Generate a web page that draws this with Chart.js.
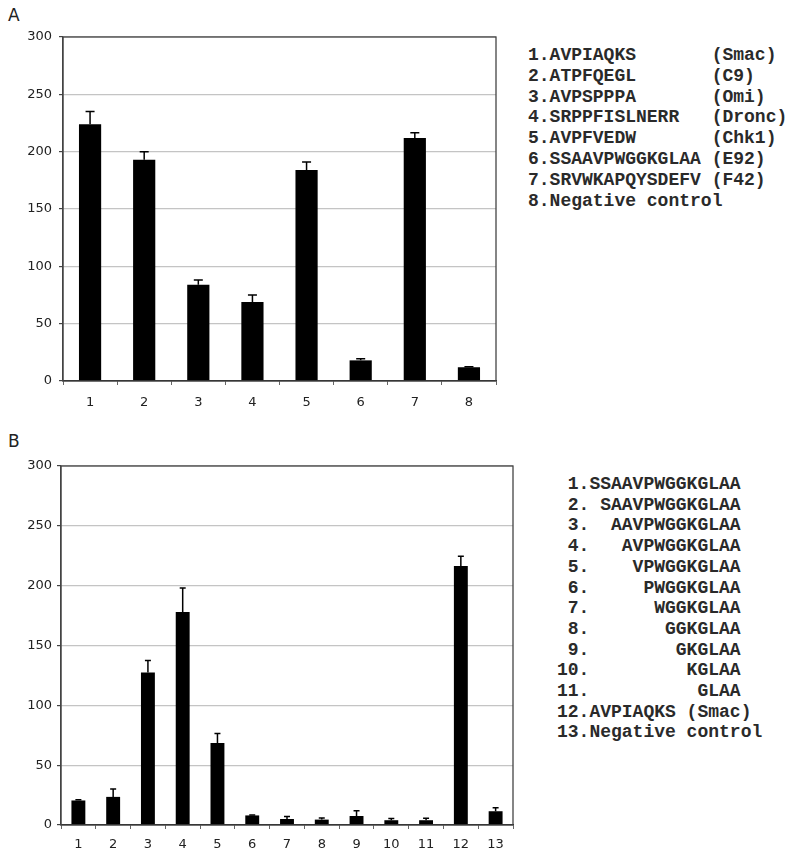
<!DOCTYPE html>
<html>
<head>
<meta charset="utf-8">
<script src="https://cdn.jsdelivr.net/npm/chart.js@4.4.1/dist/chart.umd.min.js"></script>
<style>
  body { margin: 0; background: #fff; width: 800px; height: 855px; position: relative; overflow: hidden; }
  .panel { position: absolute; font: 17px "DejaVu Sans", sans-serif; color: #222; }
  .box { position: absolute; left: 0; }
  pre.key { position: absolute; margin: 0; font-family: "Liberation Mono", "Courier New", monospace; font-weight: bold; font-size: 18px; line-height: 20.8px; color: #2a2a2a; }
</style>
</head>
<body>
<div class="panel" style="left:8px;top:5px">A</div>
<div class="box" style="top:0"><canvas id="chartA" width="520" height="420"></canvas></div>
<pre class="key" id="keyA" style="left:528px;top:45px"></pre>

<div class="panel" style="left:8px;top:431px">B</div>
<div class="box" style="top:420px"><canvas id="chartB" width="540" height="435"></canvas></div>
<pre class="key" id="keyB" style="left:557px;top:474px;line-height:20.7px"></pre>

<script>
const labelsA = ['1', '2', '3', '4', '5', '6', '7', '8'];
const valuesA = [224, 193, 84, 69, 184, 18, 212, 12];
const errorsA = [11, 7, 4, 6, 7, 1.5, 4.5, 0.5];
const keyA = [
    '1.AVPIAQKS       (Smac)',
    '2.ATPFQEGL       (C9)',
    '3.AVPSPPPA       (Omi)',
    '4.SRPPFISLNERR   (Dronc)',
    '5.AVPFVEDW       (Chk1)',
    '6.SSAAVPWGGKGLAA (E92)',
    '7.SRVWKAPQYSDEFV (F42)',
    '8.Negative control'
];

const labelsB = ['1', '2', '3', '4', '5', '6', '7', '8', '9', '10', '11', '12', '13'];
const valuesB = [20.5, 23.5, 127.5, 178, 68.5, 8, 5, 4.5, 7.5, 4, 4, 216.5, 11.5];
const errorsB = [0.7, 6.5, 10, 20, 8, 0.4, 2, 1.4, 4.5, 1.5, 1.6, 8, 3];
const keyB = [
    ' 1.SSAAVPWGGKGLAA',
    ' 2. SAAVPWGGKGLAA',
    ' 3.  AAVPWGGKGLAA',
    ' 4.   AVPWGGKGLAA',
    ' 5.    VPWGGKGLAA',
    ' 6.     PWGGKGLAA',
    ' 7.      WGGKGLAA',
    ' 8.       GGKGLAA',
    ' 9.        GKGLAA',
    '10.         KGLAA',
    '11.          GLAA',
    '12.AVPIAQKS (Smac)',
    '13.Negative control'
];

document.getElementById('keyA').textContent = keyA.join('\n');
document.getElementById('keyB').textContent = keyB.join('\n');

Chart.defaults.font.family = '"DejaVu Sans", Verdana, sans-serif';
Chart.defaults.font.size = 13;
Chart.defaults.color = '#222';

// upper error bar with a cap, drawn from the bar top
const errorBars = {
    id: 'errorBars',
    afterDatasetsDraw(chart, args, opts) {
        const ctx = chart.ctx;
        const y = chart.scales.y;
        const ds = chart.data.datasets[0];
        const meta = chart.getDatasetMeta(0);
        ctx.save();
        ctx.strokeStyle = '#000';
        ctx.lineWidth = 1.5;
        meta.data.forEach((bar, i) => {
            const top = y.getPixelForValue(ds.data[i] + ds.errors[i]);
            ctx.beginPath();
            ctx.moveTo(bar.x, bar.y);
            ctx.lineTo(bar.x, top);
            ctx.moveTo(bar.x - opts.cap / 2, top);
            ctx.lineTo(bar.x + opts.cap / 2, top);
            ctx.stroke();
        });
        ctx.restore();
    }
};

// frame around the plot area
const frame = {
    id: 'frame',
    afterDraw(chart) {
        const {ctx, chartArea: a} = chart;
        ctx.save();
        ctx.strokeStyle = '#444';
        ctx.lineWidth = 1.3;
        ctx.strokeRect(a.left, a.top, a.right - a.left, a.bottom - a.top);
        ctx.restore();
    }
};

function makeChart(id, labels, values, errors, o) {
    return new Chart(document.getElementById(id), {
        type: 'bar',
        data: {
            labels: labels,
            datasets: [{
                data: values,
                errors: errors,
                backgroundColor: '#000',
                borderWidth: 0,
                categoryPercentage: 1,
                barPercentage: o.barPct
            }]
        },
        options: {
            responsive: false,
            animation: false,
            layout: { padding: { top: o.top, right: o.right, left: 0, bottom: 0 } },
            plugins: {
                legend: { display: false },
                tooltip: { enabled: false },
                errorBars: { cap: o.cap }
            },
            scales: {
                x: {
                    afterFit(scale) { scale.height = o.xh; },
                    grid: { drawOnChartArea: false, tickLength: 4, tickColor: '#666' },
                    border: { color: '#222', width: 1.3 },
                    ticks: { padding: o.xpad, maxRotation: 0 }
                },
                y: {
                    min: 0,
                    max: 300,
                    afterFit(scale) { scale.width = o.yw; },
                    ticks: { stepSize: 50, padding: o.ypad },
                    grid: {
                        color: (c) => c.tick && c.tick.value === 0 ? 'rgba(0,0,0,0)' : '#c4c4c4',
                        tickColor: '#444',
                        tickLength: 4,
                        lineWidth: 1.2
                    },
                    border: { color: '#444', width: 1.3 }
                }
            }
        },
        plugins: [errorBars, frame]
    });
}

makeChart('chartA', labelsA, valuesA, errorsA, { barPct: 0.41, cap: 9, top: 37, right: 24, xh: 39, yw: 63, ypad: 7, xpad: 10 });
makeChart('chartB', labelsB, valuesB, errorsB, { barPct: 0.40, cap: 6, top: 46, right: 27, xh: 30, yw: 61, ypad: 5, xpad: 8 });
</script>
</body>
</html>
